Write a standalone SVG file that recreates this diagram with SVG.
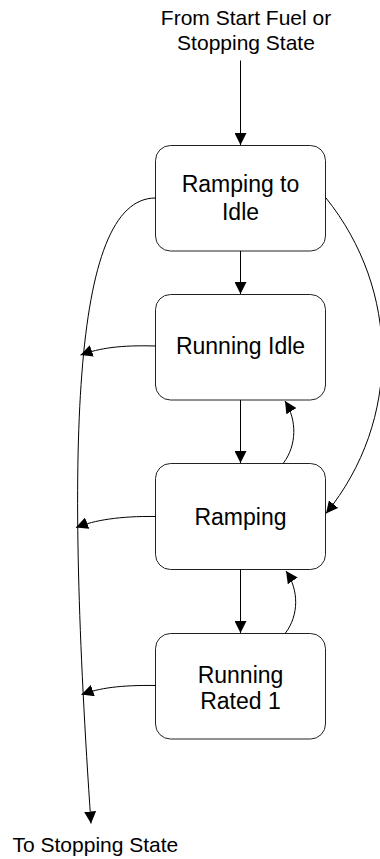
<svg xmlns="http://www.w3.org/2000/svg" width="380" height="859" viewBox="0 0 380 859">
<style>
  .box { fill: #ffffff; stroke: #222222; stroke-width: 1; }
  .lbl { font-family: "Liberation Sans", Arial, sans-serif; font-size: 21px; fill: #000000; text-anchor: middle; }
  .node { font-size: 23px; }
  .edge { fill: none; stroke: #000000; stroke-width: 1; marker-end: url(#ah); }
</style>
<defs>
  <marker id="ah" markerWidth="12" markerHeight="12" refX="12" refY="6" orient="auto" markerUnits="userSpaceOnUse">
    <path d="M0,0 L12,6 L0,12 z" fill="#000000"/>
  </marker>
</defs>
<rect width="380" height="859" fill="#ffffff"/>

<g id="start-label">
  <text class="lbl" x="246" y="25">From Start Fuel or</text>
  <text class="lbl" x="246" y="50">Stopping State</text>
</g>
<g id="end-label">
  <text class="lbl" x="12.5" y="851.5" style="text-anchor:start">To Stopping State</text>
</g>

<g id="ramping-to-idle">
  <rect class="box" x="155.5" y="145.5" width="170" height="105.5" rx="15" ry="15"/>
  <text class="lbl node" x="240.5" y="191.5">Ramping to</text>
  <text class="lbl node" x="240.5" y="219.5">Idle</text>
</g>
<g id="running-idle">
  <rect class="box" x="155.5" y="294.5" width="170" height="105.5" rx="15" ry="15"/>
  <text class="lbl node" x="240.5" y="353.5">Running Idle</text>
</g>
<g id="ramping">
  <rect class="box" x="155.5" y="463.5" width="170" height="106" rx="15" ry="15"/>
  <text class="lbl node" x="240.5" y="524.5">Ramping</text>
</g>
<g id="running-rated-1">
  <rect class="box" x="155.5" y="633.5" width="170" height="105.5" rx="15" ry="15"/>
  <text class="lbl node" x="240.5" y="682.5">Running</text>
  <text class="lbl node" x="240.5" y="708.5">Rated 1</text>
</g>

<g id="connectors">
  <path class="edge" d="M240.5,60.5 L240.5,145"/>
  <path class="edge" d="M240.5,251 L240.5,294"/>
  <path class="edge" d="M240.5,400 L240.5,463"/>
  <path class="edge" d="M240.5,569.5 L240.5,633"/>
  <path class="edge" d="M283.5,463 C297,445 297,420 285,401"/>
  <path class="edge" d="M285.5,633 C299,615 299,590 286,571"/>
  <path class="edge" d="M155.5,198 C70,198 66,459 91,823.5"/>
  <path class="edge" d="M326,198 C400,290 402,420 326,513.5"/>
  <path class="edge" d="M155.5,346 C120,345 100,348 80.5,355"/>
  <path class="edge" d="M155.5,516.5 C120,516 95,520 76,527.5"/>
  <path class="edge" d="M155.5,685.5 C120,685 100,688 81.5,694.5"/>
</g>
</svg>
